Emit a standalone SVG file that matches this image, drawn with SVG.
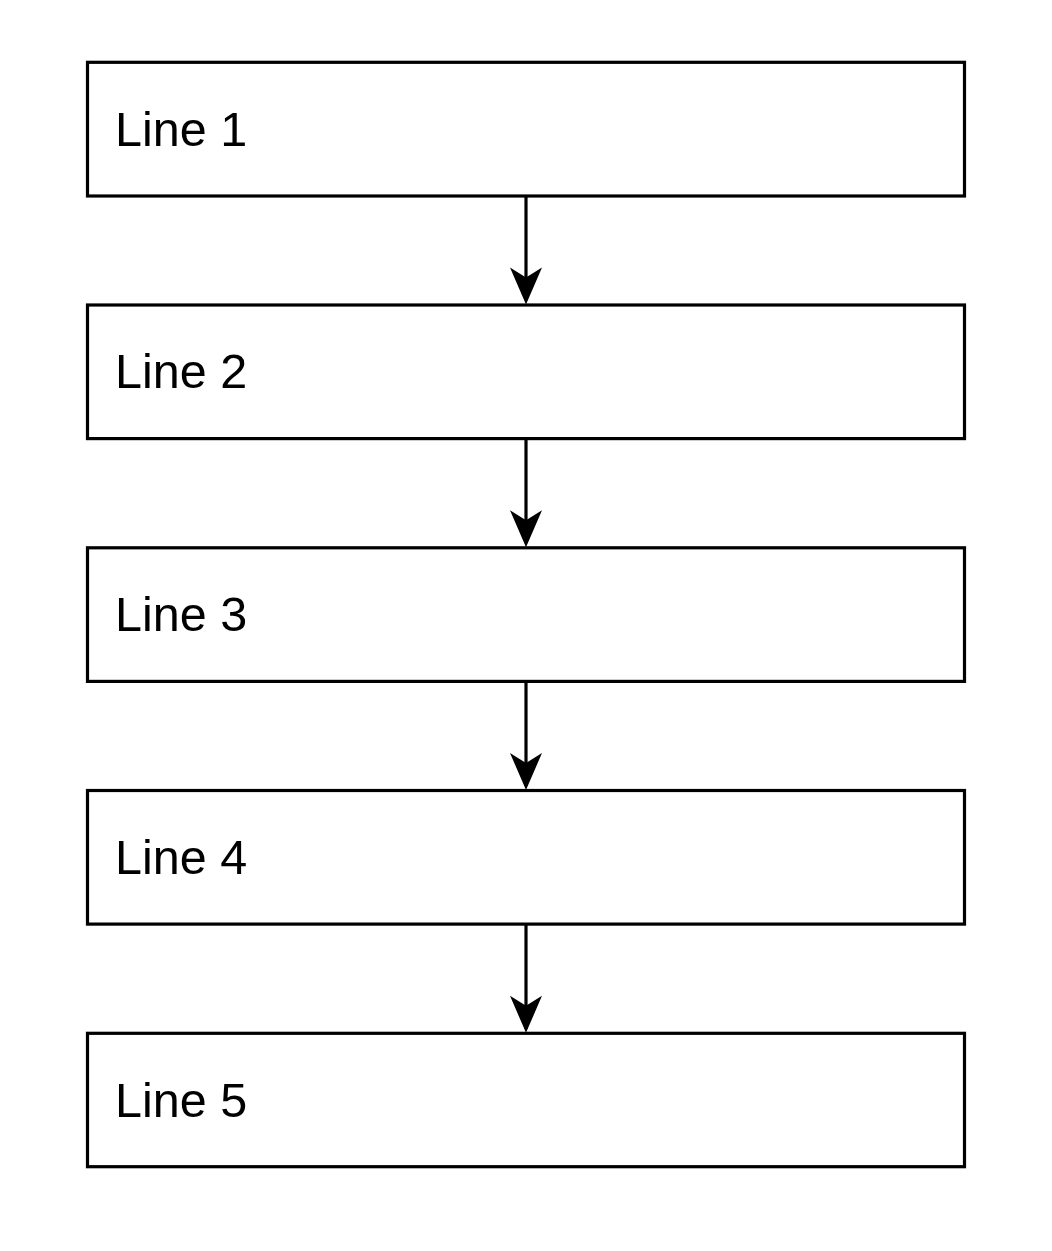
<svg xmlns="http://www.w3.org/2000/svg" width="1052" height="1251" viewBox="0 0 1052 1251">
<style>
.box{fill:#fff;stroke:#000;stroke-width:3.2}
.lbl{font-family:"Liberation Sans",Arial,sans-serif;font-size:48.5px;fill:#000}
.edge{fill:none;stroke:#000;stroke-width:3.2}
.head{fill:#000;stroke:none}
</style>
<rect width="1052" height="1251" fill="#fff"/>
<g id="connectors">
<path class="edge" d="M526,196 V300"/>
<path class="edge" d="M526,438.6 V543"/>
<path class="edge" d="M526,681.4 V786"/>
<path class="edge" d="M526,924.1 V1029"/>
<path class="head" d="M526,304.5 L510,267.5 L526,277.5 L542,267.5 Z"/>
<path class="head" d="M526,547.3 L510,510.3 L526,520.3 L542,510.3 Z"/>
<path class="head" d="M526,790 L510,753 L526,763 L542,753 Z"/>
<path class="head" d="M526,1032.8 L510,995.8 L526,1005.8 L542,995.8 Z"/>
</g>
<g id="n1"><rect class="box" x="87.5" y="62.3" width="877" height="133.7"/><text class="lbl" x="115" y="145.5">Line 1</text></g>
<g id="n2"><rect class="box" x="87.5" y="305" width="877" height="133.6"/><text class="lbl" x="115" y="388.2">Line 2</text></g>
<g id="n3"><rect class="box" x="87.5" y="547.8" width="877" height="133.6"/><text class="lbl" x="115" y="631">Line 3</text></g>
<g id="n4"><rect class="box" x="87.5" y="790.5" width="877" height="133.6"/><text class="lbl" x="115" y="873.7">Line 4</text></g>
<g id="n5"><rect class="box" x="87.5" y="1033.3" width="877" height="133.4"/><text class="lbl" x="115" y="1116.5">Line 5</text></g>
</svg>
